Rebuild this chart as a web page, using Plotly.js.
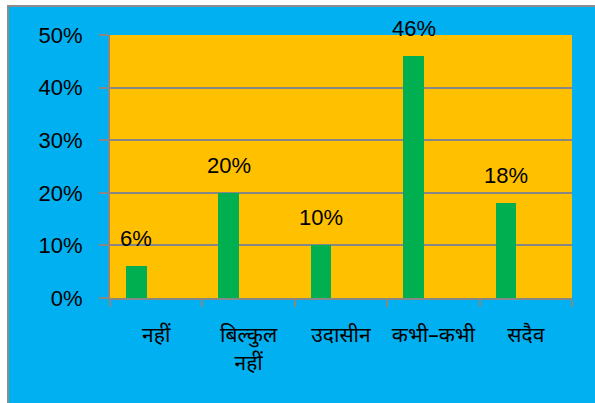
<!DOCTYPE html>
<html>
<head>
<meta charset="utf-8">
<script src="https://cdn.plot.ly/plotly-3.0.1.min.js"></script>
<style>
  html, body { margin: 0; padding: 0; background: #ffffff; width: 595px; height: 403px; overflow: hidden; }
  #frame { position: absolute; left: 7px; top: 5px; width: 586px; height: 398px; border-left: 2px solid #8c8c8c; border-top: 2px solid #8c8c8c; background: #00B0F0; }
  #chart { position: absolute; left: 0; top: 0; width: 586px; height: 398px; }
</style>
</head>
<body>
<div id="frame"><div id="chart"></div></div>
<script>
const categories = ["नहीं", "बिल्कुल<br>नहीं", "उदासीन", "कभी–कभी", "सदैव"];
const values = [0.06, 0.20, 0.10, 0.46, 0.18];
const valueLabels = ["6%", "20%", "10%", "46%", "18%"];
const yTickValues = [0, 0.1, 0.2, 0.3, 0.4, 0.5];
const yTickLabels = ["0%", "10%", "20%", "30%", "40%", "50%"];

const barWidth = 0.224;
const barOffset = -0.327;
const FONT = "'Liberation Sans', Arial, 'Noto Sans', sans-serif";

const trace = {
  type: 'bar',
  x: categories,
  y: values,
  width: categories.map(() => barWidth),
  offset: categories.map(() => barOffset),
  marker: { color: '#00B050', line: { width: 0 } },
  hoverinfo: 'none'
};

const annotations = values.map((v, i) => ({
  x: i + barOffset + barWidth / 2,
  y: v,
  xref: 'x', yref: 'y',
  text: valueLabels[i],
  showarrow: false,
  yanchor: 'bottom',
  yshift: 13,
  font: { family: FONT, size: 22, color: '#000000' }
}));

const layout = {
  width: 586, height: 398,
  margin: { l: 101, r: 23, t: 28, b: 107 },
  paper_bgcolor: '#00B0F0',
  plot_bgcolor: '#FFC000',
  showlegend: false,
  bargap: 0,
  xaxis: {
    type: 'category',
    range: [-0.5, 4.5],
    showline: true, linecolor: '#878787', linewidth: 2,
    ticks: 'outside', tickson: 'boundaries', ticklen: 7, tickwidth: 2, tickcolor: '#878787',
    showgrid: false,
    tickangle: 0,
    automargin: false,
    ticklabelstandoff: 17,
    tickfont: { family: "'Noto Sans', 'Noto Sans Devanagari', 'Lohit Devanagari', sans-serif", size: 21, color: '#000000' }
  },
  yaxis: {
    range: [0, 0.5],
    tickvals: yTickValues,
    ticktext: yTickLabels,
    showline: true, linecolor: '#878787', linewidth: 2,
    ticks: 'outside', ticklen: 9, tickwidth: 2, tickcolor: '#878787',
    showgrid: true, gridcolor: '#878787', gridwidth: 2,
    zeroline: false,
    automargin: false,
    ticklabelstandoff: 12,
    tickfont: { family: FONT, size: 22, color: '#000000' }
  },
  annotations: annotations
};

Plotly.newPlot('chart', [trace], layout, { displayModeBar: false, staticPlot: true });
</script>
</body>
</html>
